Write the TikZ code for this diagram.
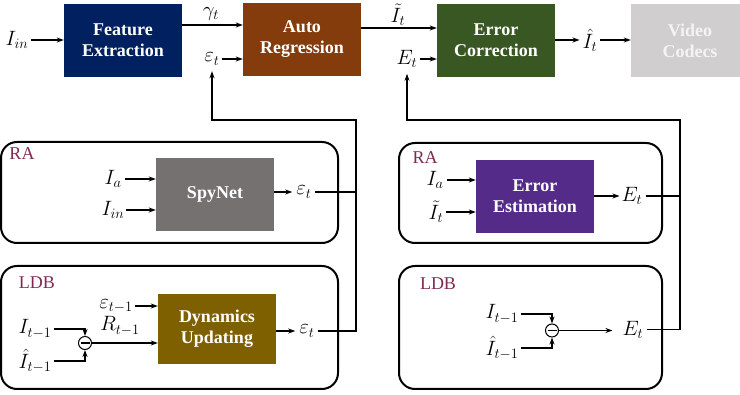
\documentclass[tikz,border=0pt]{standalone}
\usepackage{fontspec}
\setmainfont{Liberation Serif}
\usetikzlibrary{arrows.meta}
\definecolor{cFE}{HTML}{002060}
\definecolor{cAR}{HTML}{843C0C}
\definecolor{cEC}{HTML}{385723}
\definecolor{cVC}{HTML}{D0CECE}
\definecolor{cVCt}{HTML}{F4F4F4}
\definecolor{cSN}{HTML}{767171}
\definecolor{cEE}{HTML}{552B8A}
\definecolor{cDU}{HTML}{7F6000}
\definecolor{labc}{HTML}{7F2A55}
\begin{document}
\begin{tikzpicture}[x=1pt,y=-1pt,
  blk/.style={draw=none, minimum width=118pt, minimum height=73pt, text=white, align=center,
    font=\fontsize{18}{21}\selectfont\bfseries, inner sep=0pt},
  lab/.style={inner sep=0pt, font=\fontsize{21}{24}\selectfont},
  arr/.style={-{Stealth[length=7pt,width=5pt]}, line width=1.1pt},
  ln/.style={line width=1.1pt},
  grp/.style={draw, line width=2pt, rounded corners=16pt},
  glab/.style={text=labc, font=\fontsize{18}{21}\selectfont, inner sep=0pt},
  subc/.style={circle, draw, line width=1pt, minimum size=13pt, inner sep=0pt,
    path picture={\draw[line width=1.6pt] ([xshift=-4.5pt]path picture bounding box.center) -- ([xshift=4.5pt]path picture bounding box.center);}}
]
\useasboundingbox (0,0) rectangle (740,395);
\clip (0,0) rectangle (740,395);

% top row
\node[lab] (lIin) at (17,40) {$I_{in}$};
\node[blk, fill=cFE] (fe) at (123,40.5) {Feature\\Extraction};
\node[blk, fill=cAR] (ar) at (302,39.5) {Auto\\Regression};
\node[blk, fill=cEC] (ec) at (496,40.5) {Error\\Correction};
\node[blk, fill=cVC, text=cVCt] (vc) at (690,40.5) {Video\\Codecs};
\node[lab] (lgam) at (211,14) {$\gamma_t$};
\node[lab] (lepsA) at (212,59) {$\varepsilon_t$};
\node[lab] (lItil) at (398,15) {$\tilde{I}_t$};
\node[lab] (lEA) at (407,59) {$E_t$};
\node[lab] (lIhat) at (590,40) {$\hat{I}_t$};
\coordinate (yg) at (0,25);
\coordinate (yit) at (0,28);

\draw[arr] ([xshift=2pt]lIin.east) -- (fe.west |- lIin.east);
\draw[arr] (fe.east |- yg) -- (ar.west |- yg);
\draw[arr] ([xshift=2pt]lepsA.east) -- (ar.west |- lepsA.east);
\draw[arr] (ar.east |- yit) -- (ec.west |- yit);
\draw[arr] ([xshift=2pt]lEA.east) -- (ec.west |- lEA.east);
\draw[arr] (ec.east |- lIhat) -- ([xshift=-3pt]lIhat.west);
\draw[arr] ([xshift=3pt]lIhat.east) -- (vc.west |- lIhat);

% RA left
\node[grp, minimum width=337pt, minimum height=101pt] (raL) at (169.5,192.5) {};
\node[glab] (tRAL) at (22,154) {RA};
\node[blk, fill=cSN] (sn) at (215,194.5) {SpyNet};
\node[lab] (lIa) at (113,179) {$I_a$};
\node[lab] (lIin2) at (113,210) {$I_{in}$};
\node[lab] (lepsR) at (304,192) {$\varepsilon_t$};
\draw[arr] ([xshift=3pt]lIa.east) -- (sn.west |- lIa.east);
\draw[arr] ([xshift=1pt]lIin2.east) -- (sn.west |- lIin2.east);
\draw[arr] (sn.east |- lepsR) -- ([xshift=-4pt]lepsR.west);

% RA right
\node[grp, minimum width=263pt, minimum height=100pt] (raR) at (530.5,193) {};
\node[glab] (tRAR) at (425,158) {RA};
\node[blk, fill=cEE] (ee) at (535,196.5) {Error\\Estimation};
\node[lab] (lIa2) at (435,180) {$I_a$};
\node[lab] (lIt2) at (436,212) {$\tilde{I}_t$};
\node[lab] (lER) at (632,196) {$E_t$};
\draw[arr] ([xshift=3pt]lIa2.east) -- (ee.west |- lIa2.east);
\draw[arr] ([xshift=3pt]lIt2.east) -- (ee.west |- lIt2.east);
\draw[arr] (ee.east |- lER) -- ([xshift=-2pt]lER.west);

% LDB left
\node[grp, minimum width=337pt, minimum height=123pt] (ldbL) at (169.5,327.5) {};
\node[glab] (tLL) at (37,283) {LDB};
\node[blk, fill=cDU, minimum height=70pt] (du) at (217,329) {Dynamics\\Updating};
\node[lab] (lepsm) at (116,306) {$\varepsilon_{t-1}$};
\node[lab] (lIm) at (35,329) {$I_{t-1}$};
\node[lab] (lIhm) at (35,361) {$\hat{I}_{t-1}$};
\node[subc] (s1) at (85,343) {};
\node[lab] (lR) at (120,326) {$R_{t-1}$};
\node[lab] (lepsD) at (307,331) {$\varepsilon_t$};
\draw[arr] ([xshift=2pt]lepsm.east) -- (du.west |- lepsm.east);
\draw[arr] ([xshift=2pt]lIm.east) -| (s1.north);
\draw[arr] ([xshift=2pt]lIhm.east) -| (s1.south);
\draw[arr] (s1.east) -- (du.west |- s1);
\draw[arr] (du.east |- lepsD) -- ([xshift=-4pt]lepsD.west);

% LDB right
\node[grp, minimum width=263pt, minimum height=123pt] (ldbR) at (530.5,327.5) {};
\node[glab] (tLR) at (438,284) {LDB};
\node[lab] (lIm2) at (502,314) {$I_{t-1}$};
\node[lab] (lIhm2) at (502,348) {$\hat{I}_{t-1}$};
\node[subc] (s2) at (552,330.5) {};
\node[lab] (lEL) at (633,329.5) {$E_t$};
\draw[arr] ([xshift=2pt]lIm2.east) -| (s2.north);
\draw[arr] ([xshift=2pt]lIhm2.east) -| (s2.south);
\draw[arr] (s2.east) -- ([xshift=-10pt]lEL.west |- s2.east);

% feedback
\coordinate (cL) at (356,120);
\coordinate (cR) at (680,120);
\draw[arr] ([xshift=3pt]lepsD.east) -| (cL) -| ([yshift=-6pt]lepsA.south);
\draw[ln] ([xshift=3pt]lepsR.east) -- (cL |- lepsR.east);
\draw[arr] ([xshift=3pt]lEL.east) -| (cR) -| ([yshift=-6pt]lEA.south);
\draw[ln] ([xshift=3pt]lER.east) -- (cR |- lER.east);
\end{tikzpicture}
\end{document}
